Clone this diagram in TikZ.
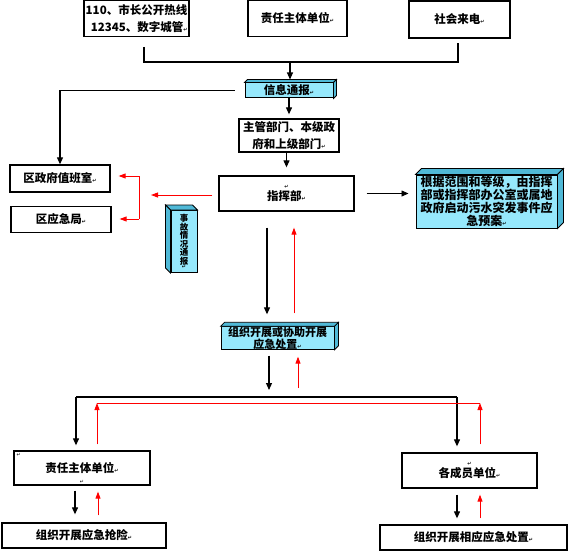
\documentclass[tikz,border=0pt]{standalone}
\usepackage{fontspec}
\setmainfont{Noto Sans CJK SC}
\newfontfamily\symfont{DejaVu Sans}
\usetikzlibrary{arrows.meta}

\definecolor{boxcyan}{RGB}{150,232,252}
\definecolor{sidecyan}{RGB}{80,185,215}
\definecolor{flowred}{RGB}{255,0,0}

\newcommand{\rmark}{{\symfont\fontsize{5}{5}\selectfont ↵}}
\newcommand{\tightlines}{\lineskiplimit=-5pt\relax\lineskip=0pt\relax}
% top face and one side face of a raised box
\newcommand{\boxdepth}[3]{%
  \filldraw[sideface] (#1.north west) -- (#1.north east) -- ([shift={#3}]#1.north east) -- ([shift={#3}]#1.north west) -- cycle;
  \filldraw[sideface] (#1.north #2) -- (#1.south #2) -- ([shift={#3}]#1.south #2) -- ([shift={#3}]#1.north #2) -- cycle;}

\begin{document}
\begin{tikzpicture}[x=1pt,y=-1pt,
	plain/.style={draw,line width=1.3pt,inner sep=0pt,align=center,
		font=\fontsize{11.5}{17}\selectfont\bfseries},
	cyanbox/.style={plain,fill=boxcyan,line width=1pt},
	sideface/.style={fill=sidecyan,draw,line width=0.8pt},
	>={Triangle[length=7pt,width=6pt]},
	link/.style={line width=1.1pt,->},
	redline/.style={flowred,line width=0.9pt},
	back/.style={redline,-{Triangle[length=7pt,width=5pt]}}]
	\useasboundingbox (0,0) rectangle (568,551);

	% sources
	\node[plain,minimum width=105pt,minimum height=36pt] (hotline) at (136.5,18.5) {110、市长公开热线\\\ \ 12345、数字城管\rmark};
	\node[plain,minimum width=99pt,minimum height=36pt] (party) at (297.5,18.5) {责任主体单位\rmark};
	\node[plain,minimum width=101pt,minimum height=37pt] (calls) at (459.5,19.5) {社会来电\rmark};

	\node[cyanbox,minimum width=88pt,minimum height=15pt] (info) at (289,90.5) {信息通报\rmark};
	\boxdepth{info}{east}{(3pt,3pt)}
	\node[plain,minimum width=100pt,minimum height=33pt] (dept) at (289,135.5) {主管部门、本级政\\府和上级部门\rmark};
	\node[plain,minimum width=135pt,minimum height=35pt,font=\fontsize{11.5}{12}\selectfont\bfseries] (hq) at (286.5,193.5) {\rmark\\指挥部\rmark};
	\node[plain,minimum width=100pt,minimum height=27pt] (duty) at (60,178.5) {区政府值班室\rmark};
	\node[plain,minimum width=100pt,minimum height=26pt] (emerg) at (61,219.5) {区应急局\rmark};
	\node[cyanbox,minimum width=141pt,minimum height=53pt,font=\fontsize{12}{13}\selectfont\bfseries] (plan) at (486.5,201.5) {根据范围和等级，由指挥\\部或指挥部办公室或属地\\政府启动污水突发事件应\\急预案\rmark};
	\boxdepth{plan}{east}{(6pt,6pt)}
	\node[cyanbox,minimum width=26pt,minimum height=62pt,font={\fontsize{8.5}{8.5}\selectfont\bfseries\tightlines}] (notice) at (184,241.5) {事\\故\\情\\况\\通\\报\\[-4pt]\rmark};
	\boxdepth{notice}{west}{(-5pt,5pt)}
	\node[cyanbox,minimum width=113pt,minimum height=22pt,font=\fontsize{11}{10.5}\selectfont\bfseries] (act) at (277.5,338) {组织开展或协助开展\\应急处置\rmark};
	\boxdepth{act}{east}{(4pt,4pt)}

	% field units
	\node[plain,minimum width=136pt,minimum height=34pt,
		label={[anchor=north west,inner sep=3pt]north west:\rmark},
		label={[anchor=south,inner sep=2pt]south:\rmark}] (unit) at (82,468) {责任主体单位\rmark};
	\node[plain,minimum width=135pt,minimum height=35pt,font=\fontsize{11.5}{12}\selectfont\bfseries] (member) at (469.5,470.5) {\rmark\\各成员单位\rmark};
	\node[plain,minimum width=164pt,minimum height=25pt] (rescue) at (84,535.5) {组织开展应急抢险\rmark};
	\node[plain,minimum width=187pt,minimum height=25pt] (respond) at (473.5,537.5) {组织开展相应应急处置\rmark};

	\coordinate (hotline-out) at (144,47);
	\coordinate (calls-out) at (458,43);
	\coordinate (merge) at (290,62);
	\coordinate (report) at (151,195);
	\coordinate (fork-top) at (139,176);
	\coordinate (fork-bot) at (139,219);
	\coordinate (act-out) at (269,390);
	\coordinate (act-in) at (298,388);
	\coordinate (bus-l) at (76,397);
	\coordinate (bus-r) at (457,397);
	\coordinate (ret-l) at (97,403);
	\coordinate (ret-r) at (480,403);

	% downward flow
	\draw[line width=1.1pt] (hotline-out) |- (merge) -| (calls-out);
	\draw[link,shorten >=3pt] (merge) -- (merge |- info.north);
	\draw[link,shorten >=4pt] (info) -- (dept);
	\draw[link,shorten <=10pt] (info.west) -| (duty);
	\draw[link,shorten >=8pt] (dept.south -| hq.north) -- (hq.north);
	\draw[->,line width=0.8pt,shorten <=12pt,shorten >=7pt] (hq.east) -- (hq.east -| plan.west);
	\draw[link,shorten <=16pt,shorten >=12pt] ([xshift=-19.5pt]hq.south) -- ([xshift=-19.5pt]hq.south |- act.north);
	\draw[link,shorten <=6pt] (act.south -| act-out) -- (act-out);
	\draw[line width=1.1pt] (bus-r) -- (bus-l);
	\draw[link,shorten >=5pt] (bus-l) -- (bus-l |- unit.north);
	\draw[link,shorten >=6pt] (bus-r) -- (bus-r |- member.north);
	\draw[link,shorten <=5pt,shorten >=8pt] ([xshift=-7pt]unit.south) -- ([xshift=-7pt]unit.south |- rescue.north);
	\draw[link,shorten <=6pt,shorten >=6pt] ([xshift=-12.5pt]member.south) -- ([xshift=-12.5pt]member.south |- respond.north);

	% reports back
	\draw[back,shorten <=6pt] (hq.west |- report) -- (report);
	\draw[redline] (fork-top) -- (fork-bot);
	\draw[back,shorten >=8pt] (fork-top) -- (fork-top -| duty.east);
	\draw[back,shorten >=8pt] (fork-bot) -- (fork-bot -| emerg.east);
	\draw[back,shorten <=13pt,shorten >=16pt] ([xshift=7.5pt]hq.south |- act.north) -- ([xshift=7.5pt]hq.south);
	\draw[back,shorten >=7pt] (act-in) -- (act-in |- act.south);
	\draw[redline] (ret-l) -- (ret-r);
	\draw[back,shorten <=6pt] (unit.north -| ret-l) -- (ret-l);
	\draw[back,shorten <=8pt] (member.north -| ret-r) -- (ret-r);
	\draw[back,shorten <=7pt,shorten >=6pt] ([xshift=16pt]unit.south |- rescue.north) -- ([xshift=16pt]unit.south);
	\draw[back,shorten <=6pt,shorten >=6pt] ([xshift=10.5pt]member.south |- respond.north) -- ([xshift=10.5pt]member.south);
\end{tikzpicture}
\end{document}
